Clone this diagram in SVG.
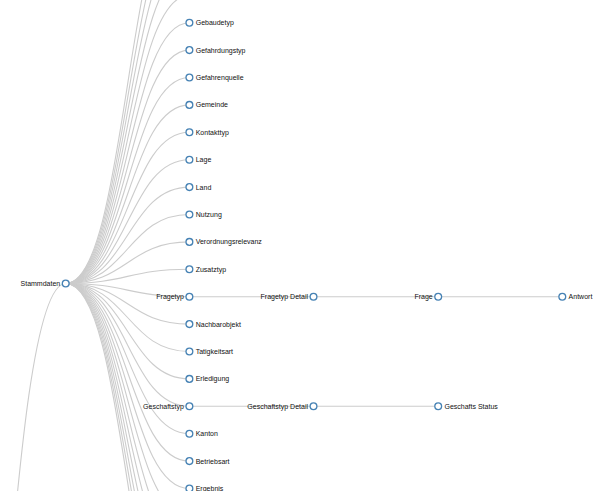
<svg xmlns="http://www.w3.org/2000/svg" width="600" height="491" viewBox="0 0 600 491">
<style>
.link{fill:none;stroke:#ccc;stroke-width:1.1}
.node circle{fill:#fff;stroke:#4682b4;stroke-width:1.3}
.node text{font-family:"Liberation Sans",Arial,sans-serif;font-size:7px;fill:#111}
.l text{text-anchor:end}
</style>
<rect width="600" height="491" fill="#fff"/>
<g id="links">
<path class="link" d="M-58.5,1000C3.6,1000 3.6,283.5 65.7,283.5"/>
<path class="link" d="M65.7,283.5C127.55,283.5 127.55,-114.3 189.4,-114.3"/>
<path class="link" d="M65.7,283.5C127.55,283.5 127.55,-86.9 189.4,-86.9"/>
<path class="link" d="M65.7,283.5C127.55,283.5 127.55,-59.5 189.4,-59.5"/>
<path class="link" d="M65.7,283.5C127.55,283.5 127.55,-32.1 189.4,-32.1"/>
<path class="link" d="M65.7,283.5C127.55,283.5 127.55,-4.7 189.4,-4.7"/>
<path class="link" d="M65.7,283.5C127.55,283.5 127.55,22.7 189.4,22.7"/>
<path class="link" d="M65.7,283.5C127.55,283.5 127.55,50.1 189.4,50.1"/>
<path class="link" d="M65.7,283.5C127.55,283.5 127.55,77.5 189.4,77.5"/>
<path class="link" d="M65.7,283.5C127.55,283.5 127.55,104.9 189.4,104.9"/>
<path class="link" d="M65.7,283.5C127.55,283.5 127.55,132.3 189.4,132.3"/>
<path class="link" d="M65.7,283.5C127.55,283.5 127.55,159.7 189.4,159.7"/>
<path class="link" d="M65.7,283.5C127.55,283.5 127.55,187.1 189.4,187.1"/>
<path class="link" d="M65.7,283.5C127.55,283.5 127.55,214.5 189.4,214.5"/>
<path class="link" d="M65.7,283.5C127.55,283.5 127.55,241.9 189.4,241.9"/>
<path class="link" d="M65.7,283.5C127.55,283.5 127.55,269.3 189.4,269.3"/>
<path class="link" d="M65.7,283.5C127.55,283.5 127.55,296.7 189.4,296.7"/>
<path class="link" d="M65.7,283.5C127.55,283.5 127.55,324.1 189.4,324.1"/>
<path class="link" d="M65.7,283.5C127.55,283.5 127.55,351.5 189.4,351.5"/>
<path class="link" d="M65.7,283.5C127.55,283.5 127.55,378.9 189.4,378.9"/>
<path class="link" d="M65.7,283.5C127.55,283.5 127.55,406.3 189.4,406.3"/>
<path class="link" d="M65.7,283.5C127.55,283.5 127.55,433.7 189.4,433.7"/>
<path class="link" d="M65.7,283.5C127.55,283.5 127.55,461.1 189.4,461.1"/>
<path class="link" d="M65.7,283.5C127.55,283.5 127.55,488.5 189.4,488.5"/>
<path class="link" d="M65.7,283.5C127.55,283.5 127.55,515.9 189.4,515.9"/>
<path class="link" d="M65.7,283.5C127.55,283.5 127.55,543.3 189.4,543.3"/>
<path class="link" d="M65.7,283.5C127.55,283.5 127.55,570.7 189.4,570.7"/>
<path class="link" d="M65.7,283.5C127.55,283.5 127.55,598.1 189.4,598.1"/>
<path class="link" d="M65.7,283.5C127.55,283.5 127.55,625.5 189.4,625.5"/>
<path class="link" d="M65.7,283.5C127.55,283.5 127.55,652.9 189.4,652.9"/>
<path class="link" d="M65.7,283.5C127.55,283.5 127.55,680.3 189.4,680.3"/>
<path class="link" d="M189.4,296.7H313.5"/>
<path class="link" d="M313.5,296.7H438.2"/>
<path class="link" d="M438.2,296.7H562.3"/>
<path class="link" d="M189.4,406.3H313.5"/>
<path class="link" d="M313.5,406.3H438.2"/>
</g>
<g id="n-stammdaten" class="node l" transform="translate(65.7,283.5)"><circle r="3.4"/><text x="-5.5" dy=".35em">Stammdaten</text></g>
<g id="n-gebaudetyp" class="node" transform="translate(189.4,22.7)"><circle r="3.4"/><text x="6.3" dy=".35em">Gebaudetyp</text></g>
<g id="n-gefahrdungstyp" class="node" transform="translate(189.4,50.1)"><circle r="3.4"/><text x="6.3" dy=".35em">Gefahrdungstyp</text></g>
<g id="n-gefahrenquelle" class="node" transform="translate(189.4,77.5)"><circle r="3.4"/><text x="6.3" dy=".35em">Gefahrenquelle</text></g>
<g id="n-gemeinde" class="node" transform="translate(189.4,104.9)"><circle r="3.4"/><text x="6.3" dy=".35em">Gemeinde</text></g>
<g id="n-kontakttyp" class="node" transform="translate(189.4,132.3)"><circle r="3.4"/><text x="6.3" dy=".35em">Kontakttyp</text></g>
<g id="n-lage" class="node" transform="translate(189.4,159.7)"><circle r="3.4"/><text x="6.3" dy=".35em">Lage</text></g>
<g id="n-land" class="node" transform="translate(189.4,187.1)"><circle r="3.4"/><text x="6.3" dy=".35em">Land</text></g>
<g id="n-nutzung" class="node" transform="translate(189.4,214.5)"><circle r="3.4"/><text x="6.3" dy=".35em">Nutzung</text></g>
<g id="n-verordnungsrelevanz" class="node" transform="translate(189.4,241.9)"><circle r="3.4"/><text x="6.3" dy=".35em">Verordnungsrelevanz</text></g>
<g id="n-zusatztyp" class="node" transform="translate(189.4,269.3)"><circle r="3.4"/><text x="6.3" dy=".35em">Zusatztyp</text></g>
<g id="n-fragetyp" class="node l" transform="translate(189.4,296.7)"><circle r="3.4"/><text x="-5.5" dy=".35em">Fragetyp</text></g>
<g id="n-nachbarobjekt" class="node" transform="translate(189.4,324.1)"><circle r="3.4"/><text x="6.3" dy=".35em">Nachbarobjekt</text></g>
<g id="n-tatigkeitsart" class="node" transform="translate(189.4,351.5)"><circle r="3.4"/><text x="6.3" dy=".35em">Tatigkeitsart</text></g>
<g id="n-erledigung" class="node" transform="translate(189.4,378.9)"><circle r="3.4"/><text x="6.3" dy=".35em">Erledigung</text></g>
<g id="n-geschaftstyp" class="node l" transform="translate(189.4,406.3)"><circle r="3.4"/><text x="-5.5" dy=".35em">Geschaftstyp</text></g>
<g id="n-kanton" class="node" transform="translate(189.4,433.7)"><circle r="3.4"/><text x="6.3" dy=".35em">Kanton</text></g>
<g id="n-betriebsart" class="node" transform="translate(189.4,461.1)"><circle r="3.4"/><text x="6.3" dy=".35em">Betriebsart</text></g>
<g id="n-ergebnis" class="node" transform="translate(189.4,488.5)"><circle r="3.4"/><text x="6.3" dy=".35em">Ergebnis</text></g>
<g id="n-fragetyp-detail" class="node l" transform="translate(313.5,296.7)"><circle r="3.4"/><text x="-5.5" dy=".35em">Fragetyp Detail</text></g>
<g id="n-frage" class="node l" transform="translate(438.2,296.7)"><circle r="3.4"/><text x="-5.5" dy=".35em">Frage</text></g>
<g id="n-antwort" class="node" transform="translate(562.3,296.7)"><circle r="3.4"/><text x="6.3" dy=".35em">Antwort</text></g>
<g id="n-geschaftstyp-detail" class="node l" transform="translate(313.5,406.3)"><circle r="3.4"/><text x="-5.5" dy=".35em">Geschaftstyp Detail</text></g>
<g id="n-geschafts-status" class="node" transform="translate(438.2,406.3)"><circle r="3.4"/><text x="6.3" dy=".35em">Geschafts Status</text></g>
</svg>
